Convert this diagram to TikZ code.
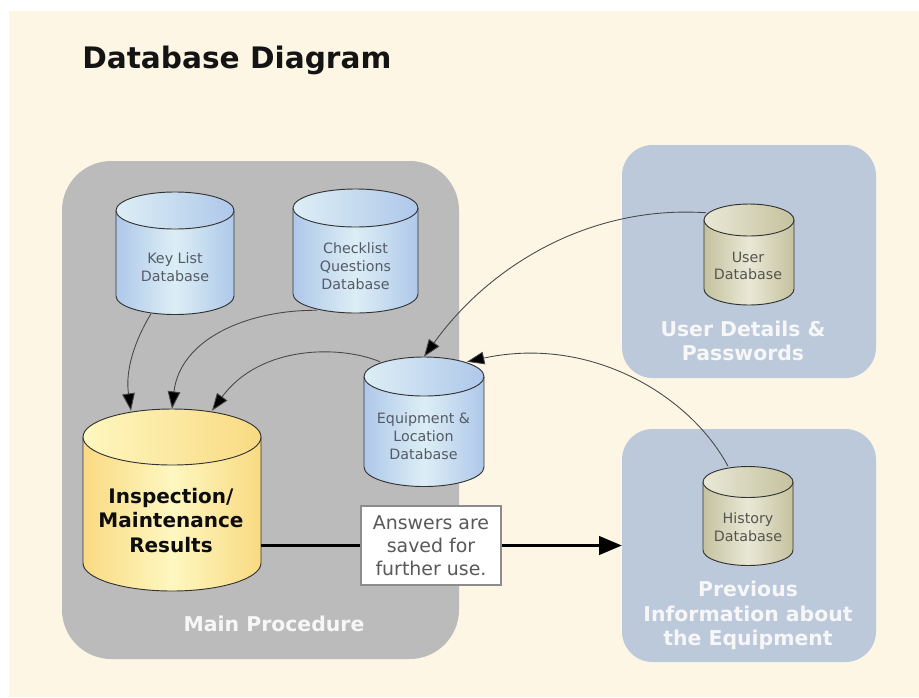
\documentclass[tikz,border=0pt]{standalone}
\usepackage{fontspec}
\setmainfont{DejaVu Sans}
\usetikzlibrary{arrows.meta,calc}
\definecolor{cream}{HTML}{FEF6E4}
\definecolor{greypanel}{HTML}{BBBBBB}
\definecolor{bluepanel}{HTML}{BBC9DB}
\definecolor{blueedge}{HTML}{AFC8EA}
\definecolor{bluemid}{HTML}{DCEEF5}
\definecolor{yellowedge}{HTML}{F9DA82}
\definecolor{yellowmid}{HTML}{FEF7C0}
\definecolor{khakiedge}{HTML}{C4C29E}
\definecolor{khakimid}{HTML}{E9E8D6}
\definecolor{dbtext}{HTML}{555B66}
\definecolor{khtext}{HTML}{55554F}
\tikzset{
  panel/.style={fill=#1,draw=none,rectangle,inner sep=0pt},
  dbshape/.style={draw=none,fill=none,rectangle,inner sep=0pt},
  dblabel/.style={align=center,font=\fontsize{10.7pt}{13.3pt}\selectfont,text=dbtext,inner sep=0pt},
  whitelabel/.style={align=center,font=\bfseries\fontsize{15.3pt}{18.5pt}\selectfont,text=white!97!black,inner sep=0pt},
  conn/.style={draw=black!72,line width=0.65pt,-{Triangle[length=13pt,width=9.5pt,fill=black]}},
  bigline/.style={draw=black,line width=1.6pt},
  noteBox/.style={draw=black!45,line width=0.9pt,fill=white,align=center,text=black!65,
    font=\fontsize{14.2pt}{17.3pt}\selectfont,inner sep=0pt,minimum width=105pt,minimum height=59.25pt}
}
% name, cx, top-ellipse centre, bottom-ellipse centre, rx, ry, edge, mid
\newcommand{\dbcyl}[8]{%
  \shade[left color=#7,right color=#7,middle color=#8]
    (#2-#5,#3) -- (#2-#5,#4) .. controls (#2-#5,#4+0.552*#6) and (#2-0.552*#5,#4+#6) .. (#2,#4+#6)
    .. controls (#2+0.552*#5,#4+#6) and (#2+#5,#4+0.552*#6) .. (#2+#5,#4) -- (#2+#5,#3) -- cycle;
  \draw[black!80,line width=0.7pt]
    (#2-#5,#3) -- (#2-#5,#4) .. controls (#2-#5,#4+0.552*#6) and (#2-0.552*#5,#4+#6) .. (#2,#4+#6)
    .. controls (#2+0.552*#5,#4+#6) and (#2+#5,#4+0.552*#6) .. (#2+#5,#4) -- (#2+#5,#3);
  \path[draw=black!80,line width=0.7pt,left color=#8,right color=#7]
    (#2-#5,#3) .. controls (#2-#5,#3-0.552*#6) and (#2-0.552*#5,#3-#6) .. (#2,#3-#6)
    .. controls (#2+0.552*#5,#3-#6) and (#2+#5,#3-0.552*#6) .. (#2+#5,#3)
    .. controls (#2+#5,#3+0.552*#6) and (#2+0.552*#5,#3+#6) .. (#2,#3+#6)
    .. controls (#2-0.552*#5,#3+#6) and (#2-#5,#3+0.552*#6) .. (#2-#5,#3) -- cycle;
  \node[dbshape,minimum width=1.5pt*#5,minimum height=0.75pt*(#4-#3+2*#6)] (#1) at (#2,{(#3+#4)/2}) {};
}
\begin{document}
\begin{tikzpicture}[x=0.75pt,y=-0.75pt]
\useasboundingbox (0,0) rectangle (919,697);
\fill[white] (0,0) rectangle (919,697);
\fill[cream] (9,11) rectangle (919,697);

\node[anchor=base west,inner sep=0pt,font=\bfseries\fontsize{22.2pt}{26pt}\selectfont,text=black!92] (title) at (82,68) {Database Diagram};

\node[panel=greypanel,rounded corners=37pt,minimum width=297.75pt,minimum height=373.5pt] (mainpanel) at (260.5,410) {};
\node[panel=bluepanel,rounded corners=23pt,minimum width=190.5pt,minimum height=174.75pt] (userpanel) at (749,261.5) {};
\node[panel=bluepanel,rounded corners=23pt,minimum width=190.5pt,minimum height=174.75pt] (histpanel) at (749,545.5) {};

\dbcyl{key}{175}{210.5}{296}{59}{18.5}{blueedge}{bluemid}
\dbcyl{check}{355.5}{208}{294}{62.5}{19}{blueedge}{bluemid}
\dbcyl{equip}{424}{376.5}{467}{60}{19.5}{blueedge}{bluemid}
\dbcyl{insp}{172}{437}{563}{89}{28}{yellowedge}{yellowmid}
\dbcyl{user}{749}{220}{289}{45}{16}{khakiedge}{khakimid}
\dbcyl{hist}{748}{482}{550}{45}{15.5}{khakiedge}{khakimid}

\node[dblabel] (keytext) at (175,267) {Key List\\Database};
\node[dblabel] (checktext) at (355.5,266) {Checklist\\Questions\\Database};
\node[dblabel] (equiptext) at (423.5,436) {Equipment \&\\Location\\Database};
\node[dblabel,text=khtext] (usertext) at (748,266) {User\\Database};
\node[dblabel,text=khtext] (histtext) at (748,527) {History\\Database};
\node[align=center,inner sep=0pt,font=\bfseries\fontsize{15pt}{18.4pt}\selectfont,text=black!95] (insptext) at (171,520.5) {Inspection/\\Maintenance\\Results};

\node[whitelabel] (mainlabel) at (274,624) {Main Procedure};
\node[whitelabel] (userlabel) at (743,341) {User Details \&\\Passwords};
\node[whitelabel] (histlabel) at (748,615.5) {Previous\\Information about\\the Equipment};

\draw[conn] ($(key.south)+(-24,-1)$) .. controls (135,340) and (125,370) .. ($(insp.north)+(-41,2)$);
\draw[conn] ($(check.south)+(-38.5,-3)$) .. controls (245,310) and (180,340) .. (insp.north);
\draw[conn] ($(equip.north)+(-44,5)$) .. controls (340,345) and (260,345) .. ($(insp.north)+(40,2)$);
\draw[conn] ($(user.north)+(-43,9)$) .. controls (590,205) and (490,265) .. (equip.north);
\draw[conn] ($(hist.north)+(-20,0)$) .. controls (690,395) and (590,335) .. ($(equip.north)+(43,5)$);

\node[noteBox] (note) at (431,545.5) {Answers are\\saved for\\further use.};
\draw[bigline] (insp.east |- note.west) -- (note.west);
\draw[bigline,-{Triangle[length=17pt,width=14pt]}] (note.east) -- (histpanel.west |- note.east);
\end{tikzpicture}
\end{document}
